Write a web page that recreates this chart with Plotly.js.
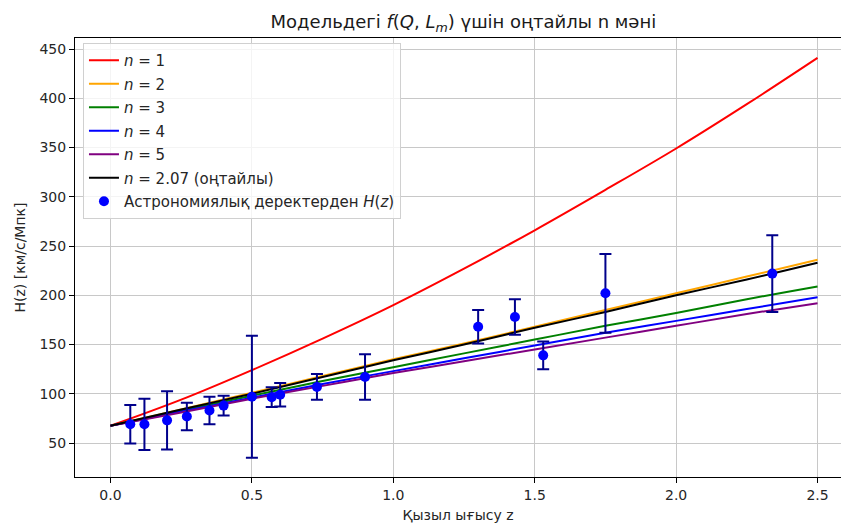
<!DOCTYPE html>
<html>
<head>
<meta charset="utf-8">
<script src="https://cdn.plot.ly/plotly-3.0.1.min.js"></script>
<style>
html, body { margin: 0; padding: 0; background: #ffffff; }
#chart { width: 841px; height: 524px; }
</style>
</head>
<body>
<div id="chart"></div>
<script>
// Model curves
const zModel = [0, 0.25, 0.5, 0.75, 1.0, 1.25, 1.5, 1.75, 2.0, 2.25, 2.5];
const hN1  = [67.5, 94, 124, 156, 190, 227, 266, 307, 349, 394, 441];
const hN2  = [67.5, 84, 101, 118, 135, 151, 168, 185, 202, 219, 236];
const hN3  = [67.5, 83, 98, 113, 127, 141, 155, 169, 182, 196, 209];
const hN4  = [67.5, 82, 96, 110, 123, 136, 149, 162, 174, 186, 198];
const hN5  = [67.5, 81, 95, 108, 121, 133, 145, 157, 169, 181, 192];
const hOpt = [67.5, 84, 100, 117, 134, 150, 167, 183, 200, 216, 233];

// Observational H(z) points
const zObs   = [0.07, 0.12, 0.20, 0.27, 0.35, 0.40, 0.50, 0.57, 0.60, 0.73, 0.90, 1.30, 1.43, 1.53, 1.75, 2.34];
const hObs   = [69, 69, 73, 77, 83, 88, 97, 96.5, 99, 107, 117, 168, 178, 139, 202, 222];
const errObs = [19.6, 26, 29.6, 14, 14, 10, 62, 10, 12, 13, 23, 17, 18, 14, 40, 39];

// Labels
const modelNames = ['<i>n</i> = 1', '<i>n</i> = 2', '<i>n</i> = 3', '<i>n</i> = 4', '<i>n</i> = 5', '<i>n</i> = 2.07 (оңтайлы)'];
const modelColors = ['#ff0000', '#ffa500', '#008000', '#0000ff', '#800080', '#000000'];
const obsName = 'Астрономиялық деректерден <i>H</i>(<i>z</i>)';
const titleText = 'Модельдегі <i>f</i>(<i>Q</i>, <i>L</i><sub><i>m</i></sub>) үшін оңтайлы n мәні';
const xTitle = 'Қызыл ығысу z';
const yTitle = 'H(z) [км/с/Мпк]';

const modelSeries = [hN1, hN2, hN3, hN4, hN5, hOpt];

const traces = modelSeries.map((ys, i) => ({
  x: zModel, y: ys, type: 'scatter', mode: 'lines',
  name: modelNames[i], legendgroup: 'g' + i,
  line: { color: modelColors[i], width: 2, shape: 'spline' }
}));

traces.push({
  x: zObs, y: hObs, type: 'scatter', mode: 'markers',
  name: obsName, legendgroup: 'obs',
  marker: { color: '#0000ff', size: 10 },
  error_y: { type: 'data', array: errObs, visible: true, color: '#00008b', thickness: 2, width: 6 }
});

const font = 'DejaVu Sans, sans-serif';

const layout = {
  width: 841, height: 524,
  margin: { l: 75, r: 0, t: 38, b: 47 },
  paper_bgcolor: '#ffffff', plot_bgcolor: '#ffffff',
  font: { family: font, size: 14, color: '#262626' },
  title: {
    text: titleText, font: { family: font, size: 18, color: '#1a1a1a' },
    xref: 'container', x: 0.551, xanchor: 'center',
    yref: 'container', y: 0.958, yanchor: 'middle'
  },
  xaxis: {
    range: [-0.1255, 2.583],
    tick0: 0, dtick: 0.5, tickformat: '.1f',
    showgrid: true, gridcolor: '#c8c8c8', gridwidth: 1,
    zeroline: false,
    showline: true, linecolor: '#000000', linewidth: 1, mirror: true,
    ticks: 'outside', ticklen: 5, tickcolor: '#000000',
    tickfont: { family: font, size: 14, color: '#262626' },
    title: { text: xTitle, font: { family: font, size: 14, color: '#262626' }, standoff: 8 }
  },
  yaxis: {
    range: [15.5, 461.2],
    tick0: 0, dtick: 50,
    showgrid: true, gridcolor: '#c8c8c8', gridwidth: 1,
    zeroline: false,
    showline: true, linecolor: '#000000', linewidth: 1,
    ticks: 'outside', ticklen: 5, tickcolor: '#000000',
    tickfont: { family: font, size: 14, color: '#262626' },
    title: { text: yTitle, font: { family: font, size: 14, color: '#262626' }, standoff: 10 }
  },
  showlegend: true,
  legend: {
    x: 0.0104, y: 0.9886, xanchor: 'left', yanchor: 'top',
    bgcolor: 'rgba(255,255,255,0.8)', bordercolor: '#d0d0d0', borderwidth: 1,
    font: { family: font, size: 15, color: '#262626' },
    traceorder: 'grouped', tracegroupgap: 1
  }
};

Plotly.newPlot('chart', traces, layout, { displayModeBar: false, staticPlot: true });
</script>
</body>
</html>
